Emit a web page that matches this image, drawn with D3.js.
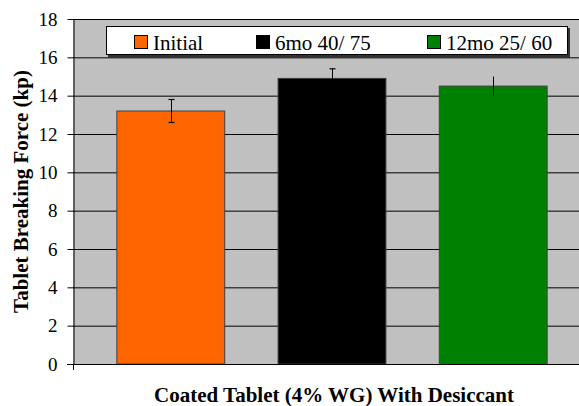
<!DOCTYPE html>
<html><head><meta charset="utf-8">
<script src="https://cdn.jsdelivr.net/npm/d3@7"></script>
<style>body{margin:0;background:#fff}svg{display:block}text{font-family:"Liberation Serif","Times New Roman",serif}</style>
</head><body>
<svg id="c" width="579" height="406"></svg>
<script>
const series = ["Initial", "6mo 40/ 75", "12mo 25/ 60"];
const values = [13.2, 14.9, 14.5];
const errors = [0.6, 0.5, 0.5];
const colors = ["#FF6600", "#000000", "#008000"];
const yTicks = [0, 2, 4, 6, 8, 10, 12, 14, 16, 18];
const xTitle = "Coated Tablet (4% WG) With Desiccant";
const yTitle = "Tablet Breaking Force (kp)";

const FONT = "'Liberation Serif', 'Times New Roman', serif";
const svg = d3.select("#c");
const L = 73, R = 591, T = 19, B = 364;
const y = d3.scaleLinear().domain([0, 18]).range([B, T]);
const x = d3.scaleBand().domain(series).range([L, R]).paddingInner(0.331).paddingOuter(0.272);

svg.append("rect").attr("x", L).attr("y", T).attr("width", R - L).attr("height", B - T).attr("fill", "#C0C0C0");

// gridlines
svg.append("g").selectAll("line").data(yTicks.filter(d => d > 0)).join("line")
  .attr("x1", L).attr("x2", R).attr("y1", d => y(d) + 0.5).attr("y2", d => y(d) + 0.5)
  .attr("stroke", "#000").attr("stroke-width", 1);

// bars
svg.append("g").selectAll("rect").data(series).join("rect")
  .attr("x", d => x(d)).attr("y", (d, i) => y(values[i]))
  .attr("width", x.bandwidth()).attr("height", (d, i) => B - y(values[i]))
  .attr("fill", (d, i) => colors[i]).attr("stroke", "#404040").attr("stroke-width", 1);

// error bars
const eb = svg.append("g");
series.forEach((s, i) => {
  const cx = Math.round(x(s) + x.bandwidth() / 2) + 0.5;
  eb.append("line").attr("x1", cx).attr("x2", cx)
    .attr("y1", y(values[i] + errors[i])).attr("y2", y(values[i] - errors[i]))
    .attr("stroke", "#000").attr("stroke-width", 1);
  if (i < 2) {
    [values[i] + errors[i], values[i] - errors[i]].forEach(v => {
      eb.append("line").attr("x1", cx - 3).attr("x2", cx + 3)
        .attr("y1", y(v)).attr("y2", y(v)).attr("stroke", "#000").attr("stroke-width", 1.2);
    });
  }
});

// y axis
const ya = d3.axisLeft(y).tickValues(yTicks).tickSize(6).tickSizeOuter(0).tickPadding(10);
const yg = svg.append("g").attr("transform", `translate(${L + 0.5},0)`).call(ya);
yg.attr("font-family", FONT).attr("font-size", 19);
yg.select(".domain").attr("stroke", "#000");
yg.selectAll("line").attr("stroke", "#000");
yg.selectAll("text").attr("font-family", FONT).attr("font-size", 19).attr("fill", "#000");

// x axis line
svg.append("line").attr("x1", L - 6).attr("x2", R).attr("y1", B + 0.5).attr("y2", B + 0.5).attr("stroke", "#000");
svg.append("line").attr("x1", L + 0.5).attr("x2", L + 0.5).attr("y1", B).attr("y2", B + 6).attr("stroke", "#000");

// titles
svg.append("text").attr("transform", `translate(28,${(T + B) / 2}) rotate(-90)`)
  .attr("text-anchor", "middle").attr("font-family", FONT)
  .attr("font-weight", "bold").attr("font-size", 21).text(yTitle);
svg.append("text").attr("x", 334).attr("y", 402).attr("text-anchor", "middle")
  .attr("font-family", FONT)
  .attr("font-weight", "bold").attr("font-size", 21).text(xTitle);

// legend
const lg = svg.append("g");
lg.append("rect").attr("x", 108).attr("y", 28).attr("width", 462).attr("height", 30).attr("fill", "#333");
lg.append("rect").attr("x", 106.5).attr("y", 26.5).attr("width", 461).attr("height", 28).attr("fill", "#fff").attr("stroke", "#000");
const lx = [134, 256, 427];
series.forEach((s, i) => {
  lg.append("rect").attr("x", lx[i] + 0.5).attr("y", 35.5).attr("width", 13).attr("height", 13)
    .attr("fill", colors[i]).attr("stroke", "#000");
  lg.append("text").attr("x", lx[i] + 19).attr("y", 50).attr("font-family", FONT)
    .attr("font-size", 21).attr("fill", "#000").text(s);
});
</script>
</body></html>
